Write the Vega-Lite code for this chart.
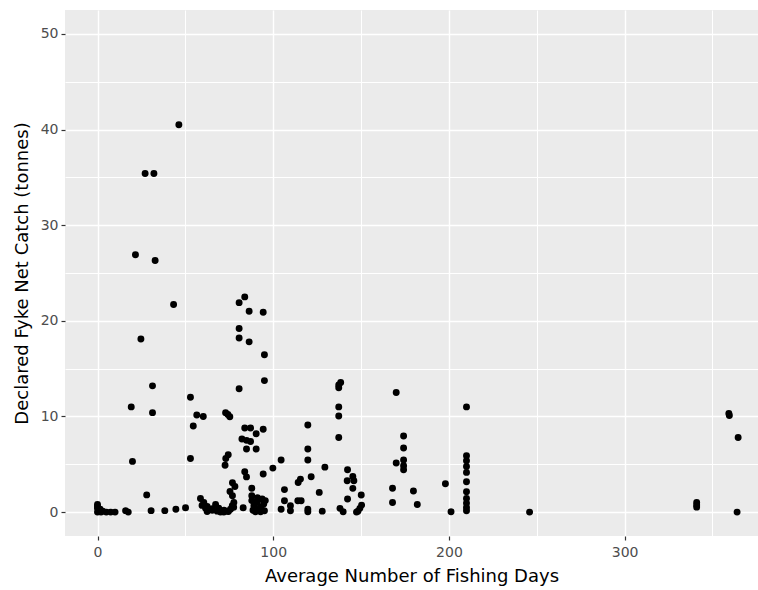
{
  "$schema": "https://vega.github.io/schema/vega-lite/v6.json",
  "autosize": {"type": "none"},
  "padding": {"left": 65, "top": 10, "right": 0, "bottom": 54},
  "width": 693,
  "height": 526,
  "config": {
    "view": {"fill": "#EBEBEB", "stroke": null},
    "font": "DejaVu Sans"
  },
  "data": {
    "values": [
      {"days": 0, "catch": 0.8}, {"days": 0, "catch": 0.6}, {"days": 0, "catch": 0.4}, {"days": 0.5, "catch": 0.2},
      {"days": 0, "catch": 0}, {"days": 1, "catch": 0.05}, {"days": 2, "catch": 0}, {"days": 3, "catch": 0.1},
      {"days": 1.5, "catch": 0.3}, {"days": 5, "catch": 0}, {"days": 7.5, "catch": 0}, {"days": 10, "catch": 0},
      {"days": 16, "catch": 0.15}, {"days": 17.5, "catch": 0},
      {"days": 19.2, "catch": 11.0}, {"days": 19.9, "catch": 5.3}, {"days": 21.6, "catch": 26.9},
      {"days": 24.7, "catch": 18.1}, {"days": 27.1, "catch": 35.4}, {"days": 32.1, "catch": 35.4},
      {"days": 28, "catch": 1.8}, {"days": 30.5, "catch": 0.15},
      {"days": 31.3, "catch": 13.2}, {"days": 31.3, "catch": 10.4}, {"days": 32.8, "catch": 26.3},
      {"days": 38.3, "catch": 0.15}, {"days": 43.3, "catch": 21.7}, {"days": 44.6, "catch": 0.3},
      {"days": 46.3, "catch": 40.5}, {"days": 50.1, "catch": 0.45},
      {"days": 52.9, "catch": 12.0}, {"days": 52.9, "catch": 5.6}, {"days": 54.5, "catch": 9.0},
      {"days": 56.5, "catch": 10.15}, {"days": 60.2, "catch": 10.0},
      {"days": 58.6, "catch": 1.43}, {"days": 60.5, "catch": 1.0}, {"days": 61.5, "catch": 0.4}, {"days": 62.4, "catch": 0.05},
      {"days": 59.5, "catch": 0.7}, {"days": 62.4, "catch": 0.6}, {"days": 65.3, "catch": 0.2}, {"days": 65.3, "catch": 0.35},
      {"days": 67.2, "catch": 0.8}, {"days": 68.1, "catch": 0.1}, {"days": 70, "catch": 0}, {"days": 71.9, "catch": 0},
      {"days": 73.8, "catch": 0.1}, {"days": 75.7, "catch": 0.3}, {"days": 76.7, "catch": 0.66}, {"days": 77.6, "catch": 1.0},
      {"days": 69, "catch": 0.4}, {"days": 72, "catch": 0.2}, {"days": 74.5, "catch": 0.05},
      {"days": 72.9, "catch": 10.4}, {"days": 74.2, "catch": 10.2}, {"days": 75.3, "catch": 9.97},
      {"days": 74.4, "catch": 6.0}, {"days": 73, "catch": 5.6}, {"days": 72.6, "catch": 4.9},
      {"days": 76.8, "catch": 3.07}, {"days": 78.2, "catch": 2.67}, {"days": 75.4, "catch": 2.15}, {"days": 76.8, "catch": 1.7},
      {"days": 77.5, "catch": 0.5},
      {"days": 80.6, "catch": 21.9}, {"days": 80.6, "catch": 19.2}, {"days": 80.6, "catch": 18.2}, {"days": 80.6, "catch": 12.9},
      {"days": 83.8, "catch": 22.5}, {"days": 86.3, "catch": 21.0}, {"days": 86.3, "catch": 17.8},
      {"days": 94.3, "catch": 20.9}, {"days": 95.0, "catch": 16.45}, {"days": 95.0, "catch": 13.75},
      {"days": 83.8, "catch": 8.8}, {"days": 87.1, "catch": 8.8}, {"days": 94.3, "catch": 8.66}, {"days": 90.3, "catch": 8.2},
      {"days": 82.2, "catch": 7.65}, {"days": 84.8, "catch": 7.5}, {"days": 87.1, "catch": 7.38},
      {"days": 84.8, "catch": 6.6}, {"days": 90.3, "catch": 6.6},
      {"days": 83.8, "catch": 4.22}, {"days": 84.8, "catch": 3.68}, {"days": 94.3, "catch": 3.98}, {"days": 99.8, "catch": 4.6},
      {"days": 87.8, "catch": 2.5}, {"days": 82.9, "catch": 0.45},
      {"days": 87.8, "catch": 1.7}, {"days": 87.8, "catch": 1.2}, {"days": 89, "catch": 0.66}, {"days": 90.9, "catch": 1.0},
      {"days": 91.8, "catch": 0.3}, {"days": 92.8, "catch": 0.03}, {"days": 93.7, "catch": 1.36}, {"days": 94.6, "catch": 0.84},
      {"days": 95, "catch": 0.14}, {"days": 89.9, "catch": 0.03}, {"days": 88.5, "catch": 0.2}, {"days": 93, "catch": 0.5},
      {"days": 95.5, "catch": 1.2}, {"days": 91, "catch": 1.5},
      {"days": 104.5, "catch": 5.44}, {"days": 106.4, "catch": 2.35}, {"days": 106.4, "catch": 1.18}, {"days": 104.5, "catch": 0.3},
      {"days": 109.8, "catch": 0.66}, {"days": 109.8, "catch": 0.14}, {"days": 114, "catch": 1.18}, {"days": 115.9, "catch": 1.18},
      {"days": 114.2, "catch": 3.1}, {"days": 115.5, "catch": 3.45}, {"days": 119.7, "catch": 9.1}, {"days": 119.7, "catch": 6.6},
      {"days": 119.7, "catch": 5.45}, {"days": 121.6, "catch": 3.7}, {"days": 119.7, "catch": 0.3}, {"days": 119.7, "catch": 0.03},
      {"days": 126.2, "catch": 2.06}, {"days": 127.9, "catch": 0.1}, {"days": 129.4, "catch": 4.7},
      {"days": 137.3, "catch": 13.3}, {"days": 138.4, "catch": 13.55}, {"days": 137.3, "catch": 13.0}, {"days": 137.3, "catch": 11.0},
      {"days": 137.3, "catch": 10.05}, {"days": 137.3, "catch": 7.8}, {"days": 138, "catch": 0.39}, {"days": 139.8, "catch": 0.03},
      {"days": 142.3, "catch": 4.42}, {"days": 145.3, "catch": 3.73}, {"days": 142.1, "catch": 3.27}, {"days": 145.9, "catch": 3.27},
      {"days": 145.3, "catch": 2.48}, {"days": 142.3, "catch": 1.36}, {"days": 150.1, "catch": 1.78}, {"days": 150.3, "catch": 0.73},
      {"days": 149.3, "catch": 0.39}, {"days": 148.2, "catch": 0.1}, {"days": 147.4, "catch": 0},
      {"days": 167.9, "catch": 2.5}, {"days": 167.9, "catch": 1.0}, {"days": 170, "catch": 12.5}, {"days": 174.2, "catch": 7.95},
      {"days": 174.2, "catch": 6.7}, {"days": 174.2, "catch": 5.44}, {"days": 170, "catch": 5.13}, {"days": 174.2, "catch": 4.84},
      {"days": 174.2, "catch": 4.42}, {"days": 179.8, "catch": 2.2}, {"days": 182, "catch": 0.8}, {"days": 198, "catch": 2.96},
      {"days": 201.2, "catch": 0.03},
      {"days": 210, "catch": 11.0}, {"days": 210, "catch": 5.9}, {"days": 210, "catch": 5.37}, {"days": 210, "catch": 4.78},
      {"days": 210, "catch": 4.15}, {"days": 210, "catch": 3.17}, {"days": 210, "catch": 2.12}, {"days": 210, "catch": 1.43},
      {"days": 210, "catch": 0.94}, {"days": 210, "catch": 0.49}, {"days": 210, "catch": 0.14},
      {"days": 245.9, "catch": 0},
      {"days": 341, "catch": 1.0}, {"days": 341, "catch": 0.73}, {"days": 341, "catch": 0.52},
      {"days": 359.3, "catch": 10.3}, {"days": 359.6, "catch": 10.1}, {"days": 364.6, "catch": 7.8}, {"days": 364, "catch": 0}
    ]
  },
  "mark": {"type": "point", "filled": true, "color": "black", "opacity": 1, "size": 48, "strokeWidth": 0},
  "encoding": {
    "x": {
      "field": "days", "type": "quantitative",
      "scale": {"domain": [-18.5, 375.9], "nice": false, "zero": false},
      "axis": {
        "values": [0, 50, 100, 150, 200, 250, 300, 350],
        "labelExpr": "datum.value % 100 === 0 ? datum.label : ''",
        "domain": false,
        "grid": true,
        "gridColor": "white",
        "gridWidth": {"condition": {"test": "datum.value % 100 === 0", "value": 1.4}, "value": 1.0},
        "ticks": true,
        "tickColor": "#333333",
        "tickSize": 4,
        "tickWidth": 1.2,
        "tickOpacity": {"condition": {"test": "datum.value % 100 === 0", "value": 1}, "value": 0},
        "labelColor": "#4D4D4D",
        "labelFontSize": 14,
        "labelPadding": 5,
        "title": "Average Number of Fishing Days",
        "titleFontSize": 18,
        "titleFontWeight": "normal",
        "titleColor": "black",
        "titlePadding": 8
      }
    },
    "y": {
      "field": "catch", "type": "quantitative",
      "scale": {"domain": [-2.5, 52.5], "nice": false, "zero": false},
      "axis": {
        "values": [0, 5, 10, 15, 20, 25, 30, 35, 40, 45, 50],
        "labelExpr": "datum.value % 10 === 0 ? datum.label : ''",
        "domain": false,
        "grid": true,
        "gridColor": "white",
        "gridWidth": {"condition": {"test": "datum.value % 10 === 0", "value": 1.4}, "value": 1.0},
        "ticks": true,
        "tickColor": "#333333",
        "tickSize": 4,
        "tickWidth": 1.2,
        "tickOpacity": {"condition": {"test": "datum.value % 10 === 0", "value": 1}, "value": 0},
        "labelColor": "#4D4D4D",
        "labelFontSize": 14,
        "labelPadding": 3,
        "title": "Declared Fyke Net Catch (tonnes)",
        "titleFontSize": 18,
        "titleFontWeight": "normal",
        "titleColor": "black",
        "titlePadding": 9
      }
    }
  }
}
